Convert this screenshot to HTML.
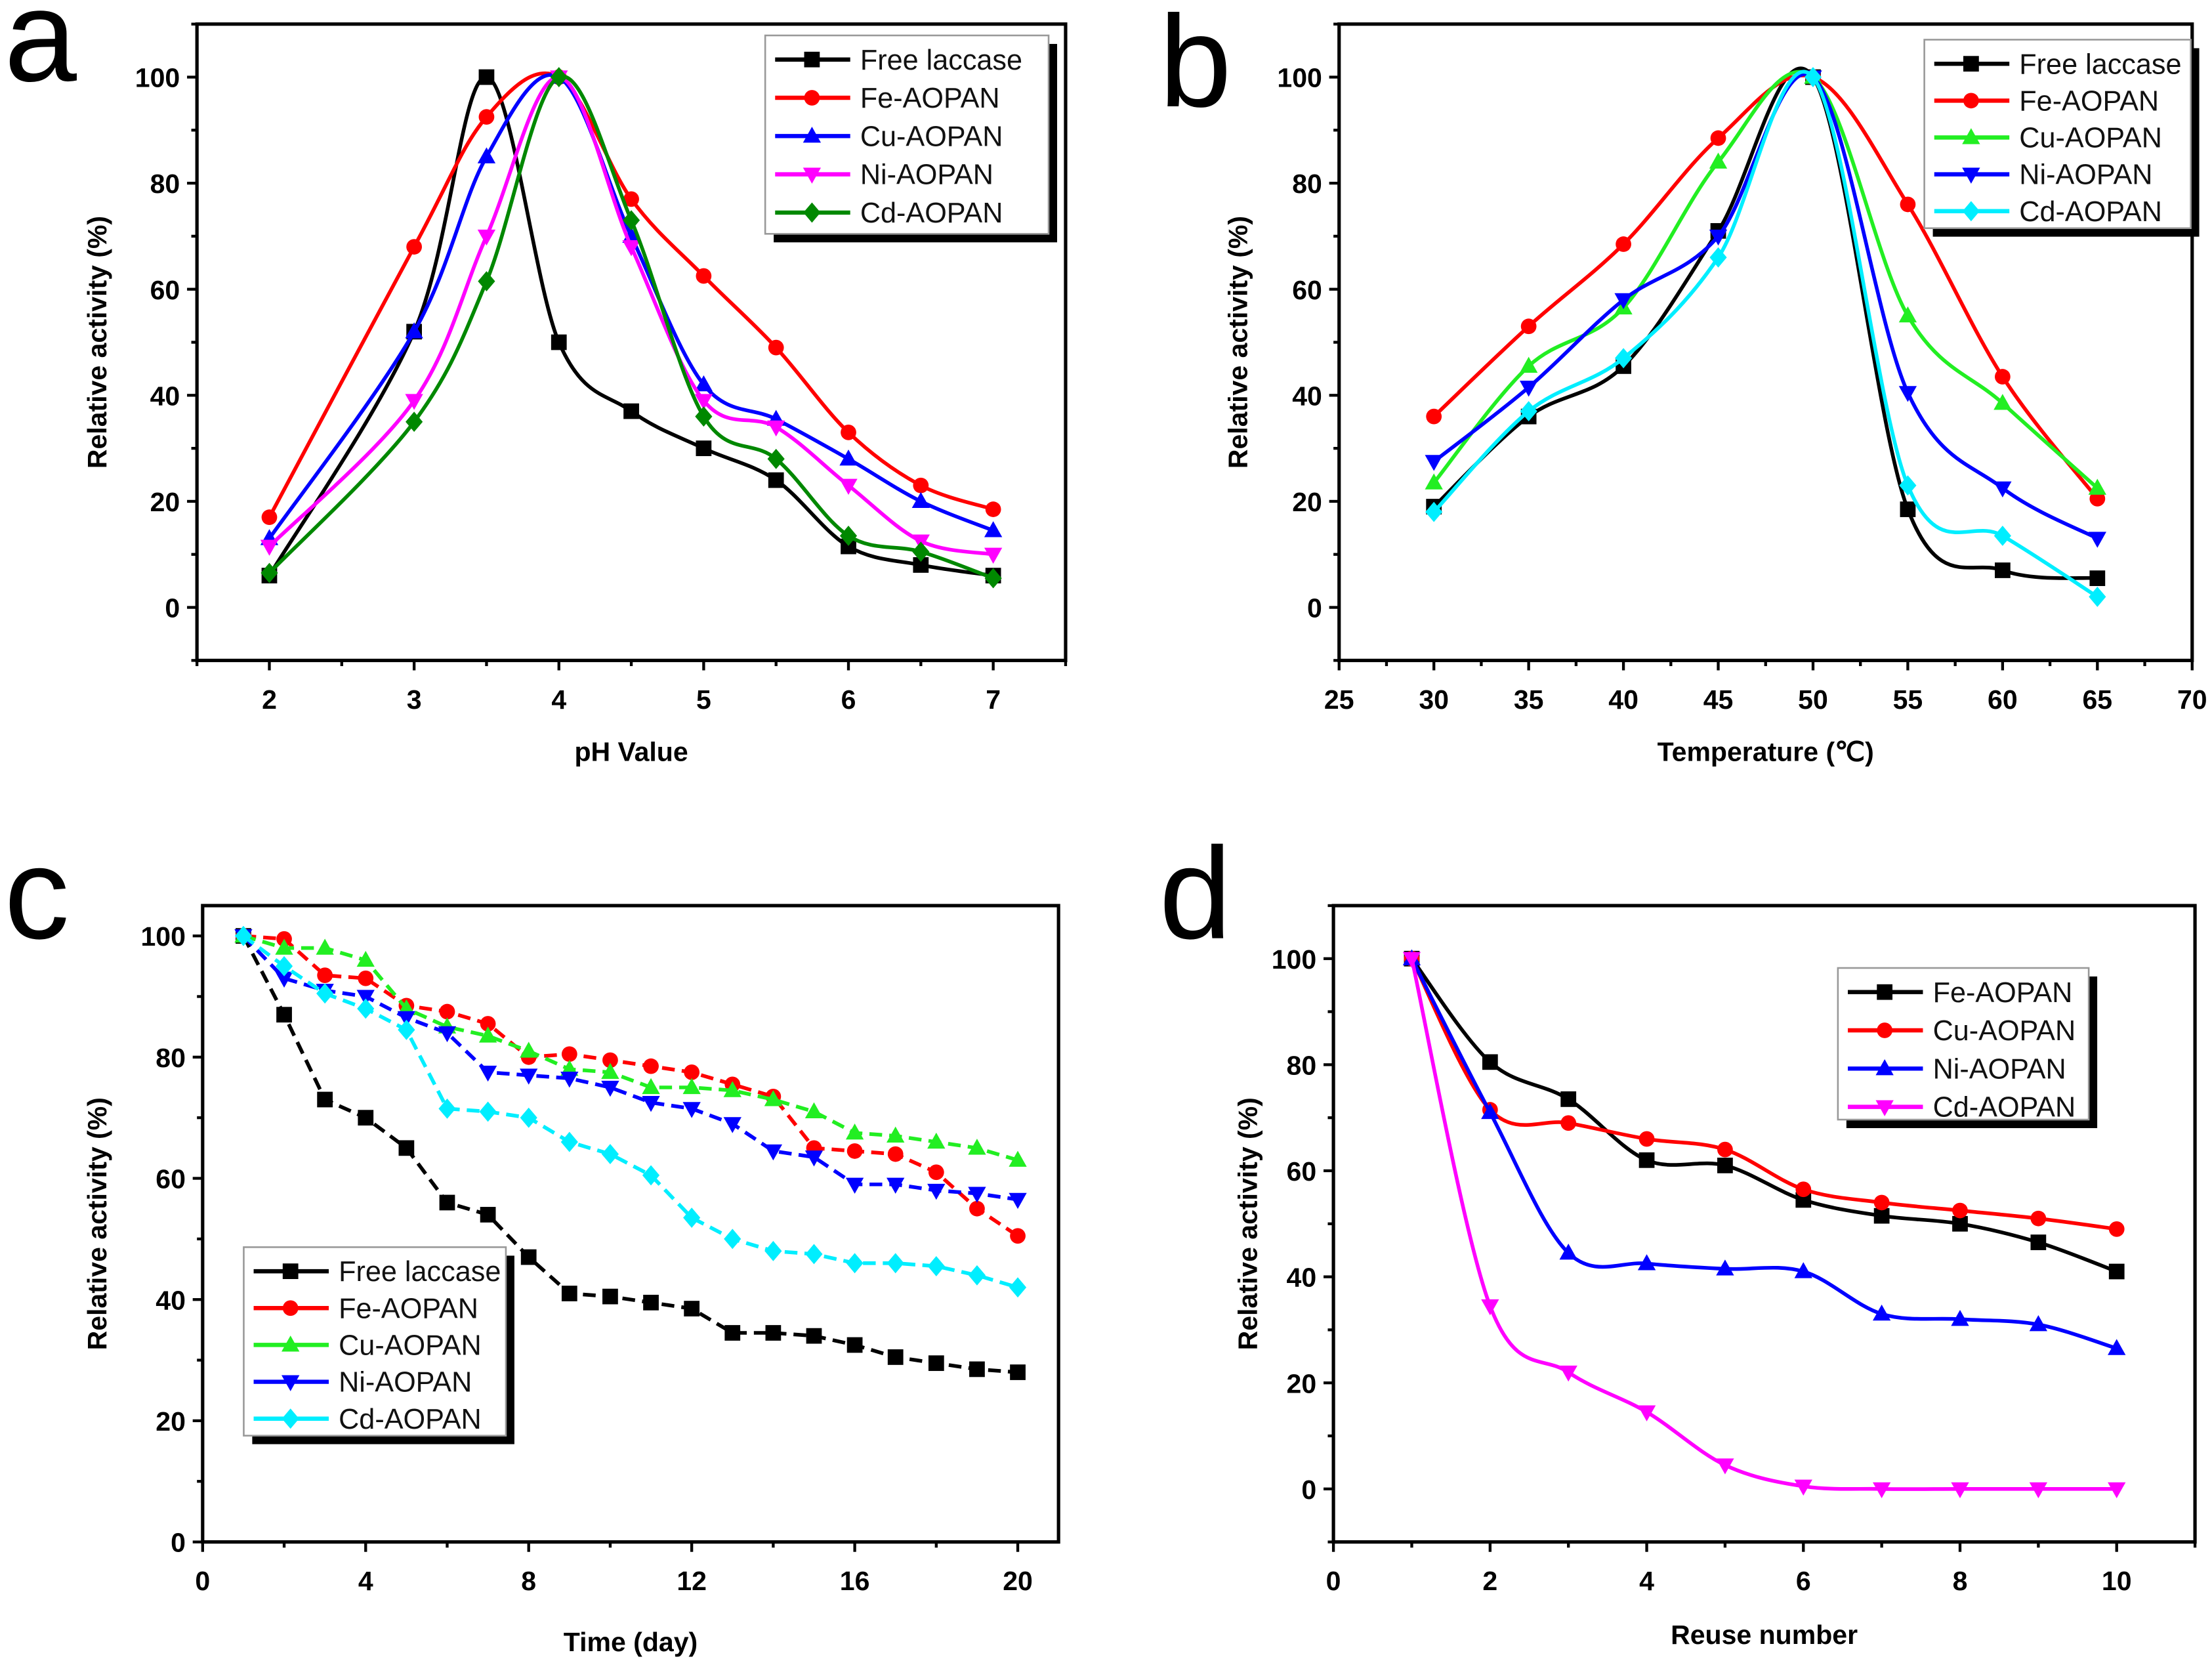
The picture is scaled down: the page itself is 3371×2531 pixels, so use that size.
<!DOCTYPE html>
<html><head><meta charset="utf-8"><style>
html,body{margin:0;padding:0;background:#fff}
svg{display:block}
text{font-family:"Liberation Sans",sans-serif}
</style></head><body>
<svg id="fig" width="3371" height="2531" viewBox="0 0 1561 1172" preserveAspectRatio="none" xmlns="http://www.w3.org/2000/svg">
<rect width="1561" height="1172" fill="#fff"/>
</svg>
<script>
// Panel a: pH
const phX=[2,3,3.5,4,4.5,5,5.5,6,6.5,7];
const phFree=[6,52,100,50,37,30,24,11.5,8,6];
const phFe=[17,68,92.5,100,77,62.5,49,33,23,18.5];
const phCu=[13,52,85,100,70,42,35.5,28,20,14.5];
const phNi=[11.5,39,70,100,68,39,34,23,12.5,10];
const phCd=[6.5,35,61.5,100,73,36,28,13.5,10.5,5.5];
const phXTicks=[2,3,4,5,6,7];
// Panel b: temperature
const tX=[30,35,40,45,50,55,60,65];
const tFree=[19,36,45.5,71,100,18.5,7,5.5];
const tFe=[36,53,68.5,88.5,100,76,43.5,20.5];
const tCu=[23.5,45.5,56.5,84,100,55,38.5,22.5];
const tNi=[27.5,41.5,58,70,100,40.5,22.5,13];
const tCd=[18,37,47,66,100,23,13.5,2];
const tXTicks=[25,30,35,40,45,50,55,60,65,70];
// Panel c: time
const dX=[1,2,3,4,5,6,7,8,9,10,11,12,13,14,15,16,17,18,19,20];
const dFree=[100,87,73,70,65,56,54,47,41,40.5,39.5,38.5,34.5,34.5,34,32.5,30.5,29.5,28.5,28];
const dFe=[100,99.5,93.5,93,88.5,87.5,85.5,80,80.5,79.5,78.5,77.5,75.5,73.5,65,64.5,64,61,55,50.5];
const dCu=[100,98,98,96,88,85,83.5,81,78,77.5,75,75,74.5,73,71,67.5,67,66,65,63];
const dNi=[100,93,91,90,86.5,84,77.5,77,76.5,75,72.5,71.5,69,64.5,63.5,59,59,58,57.5,56.5];
const dCd=[100,95,90.5,88,84.5,71.5,71,70,66,64,60.5,53.5,50,48,47.5,46,46,45.5,44,42];
const dXTicks=[0,4,8,12,16,20];
// Panel d: reuse
const rX=[1,2,3,4,5,6,7,8,9,10];
const rFe=[100,80.5,73.5,62,61,54.5,51.5,50,46.5,41];
const rCu=[100,71.5,69,66,64,56.5,54,52.5,51,49];
const rNi=[100,71,44.5,42.5,41.5,41,33,32,31,26.5];
const rCd=[100,34.5,22,14.5,4.5,0.5,0,0,0,0];
const rXTicks=[0,2,4,6,8,10];
const yTicksA=[0,20,40,60,80,100];
const yTicksC=[0,20,40,60,80,100];

const NS='http://www.w3.org/2000/svg';
const svg=document.getElementById('fig');
function el(tag,attrs,parent,txt){const e=document.createElementNS(NS,tag);for(const k in attrs)e.setAttribute(k,attrs[k]);if(txt!==undefined)e.textContent=txt;(parent||svg).appendChild(e);return e;}

function smoothPath(pts){
  if(pts.length<2)return '';
  let d='M'+pts[0][0]+','+pts[0][1];
  for(let i=0;i<pts.length-1;i++){
    const p0=pts[Math.max(i-1,0)],p1=pts[i],p2=pts[i+1],p3=pts[Math.min(i+2,pts.length-1)];
    const c1=[p1[0]+(p2[0]-p0[0])/6,p1[1]+(p2[1]-p0[1])/6];
    const c2=[p2[0]-(p3[0]-p1[0])/6,p2[1]-(p3[1]-p1[1])/6];
    d+=' C'+c1[0]+','+c1[1]+' '+c2[0]+','+c2[1]+' '+p2[0]+','+p2[1];
  }
  return d;
}
function marker(g,shape,x,y,color,r){
  r=r||5.5;let m;
  if(shape==='square')m=el('rect',{x:x-r,y:y-r,width:2*r,height:2*r,fill:color},g);
  else if(shape==='circle')m=el('circle',{cx:x,cy:y,r:r,fill:color},g);
  else if(shape==='up')m=el('polygon',{points:`${x},${y-r*1.2} ${x-r*1.15},${y+r*0.85} ${x+r*1.15},${y+r*0.85}`,fill:color},g);
  else if(shape==='down')m=el('polygon',{points:`${x},${y+r*1.2} ${x-r*1.15},${y-r*0.85} ${x+r*1.15},${y-r*0.85}`,fill:color},g);
  else m=el('polygon',{points:`${x},${y-r*1.3} ${x+r*1.1},${y} ${x},${y+r*1.3} ${x-r*1.1},${y}`,fill:color},g);
  
  
  return m;
}

function panel(cfg){
  const g=el('g',{});
  
  
  const {L,R,T,B,x0,x1,y0,y1}=cfg;
  const sx=v=>L+(v-x0)/(x1-x0)*(R-L);
  const sy=v=>B-(v-y0)/(y1-y0)*(B-T);
  const lab=el('text',{x:cfg.letter[0],y:cfg.letter[1],'font-size':92,fill:'#000'},g,cfg.id);
  
  
  // series
  cfg.series.forEach(s=>{
    const sg=el('g',{},g);
    
    
    const pts=cfg.xs.map((x,i)=>[sx(x),sy(s.v[i])]);
    const p=el('path',{d:cfg.dashed?('M'+pts.map(q=>q.join(',')).join(' L')):smoothPath(pts),fill:'none',stroke:s.c,'stroke-width':2.6,'stroke-dasharray':cfg.dashed?'9,5':'none','stroke-linejoin':'round'},sg);
    
    
    pts.forEach(q=>marker(sg,s.m,q[0],q[1],s.c));
  });
  // frame
  const fr=el('rect',{x:L,y:T,width:R-L,height:B-T,fill:'none',stroke:'#000','stroke-width':2.4},g);
  
  
  // x ticks
  const xa=el('g',{},g);
  
  
  for(let v=x0;v<=x1+1e-9;v+=cfg.xMinor){
    const X=sx(v);const major=cfg.xTicks.some(t=>Math.abs(t-v)<1e-6);
    el('line',{x1:X,y1:B,x2:X,y2:B+(major?7:4),stroke:'#000','stroke-width':2},xa);
  }
  cfg.xTicks.forEach(t=>{
    const tx=el('text',{x:sx(t),y:B+34,'font-size':19,'font-weight':'bold','text-anchor':'middle'},xa,String(t));
    
    
  });
  const xt=el('text',{x:(L+R)/2,y:cfg.xTitleY,'font-size':19,'font-weight':'bold','text-anchor':'middle'},xa,cfg.xTitle);
  
  
  // y ticks
  const ya=el('g',{},g);
  
  
  for(let v=Math.ceil(y0/10)*10;v<=y1+1e-9;v+=10){
    const Y=sy(v);const major=v%20===0&&v>=0&&v<=100;
    el('line',{x1:L,y1:Y,x2:L-(major?7:4),y2:Y,stroke:'#000','stroke-width':2},ya);
  }
  cfg.yTicks.forEach(t=>{
    const ty=el('text',{x:L-12,y:sy(t)+7,'font-size':19,'font-weight':'bold','text-anchor':'end'},ya,String(t));
    
    
  });
  const yc=(T+B)/2;
  const yt=el('text',{x:cfg.yTitleX,y:yc,'font-size':19,'font-weight':'bold','text-anchor':'middle',transform:`rotate(-90 ${cfg.yTitleX} ${yc})`},ya,'Relative activity (%)');
  
  
  // legend
  const lg=el('g',{},g);
  
  
  const [lx,ly,lw,lh,step]=cfg.leg;
  el('rect',{x:lx+6,y:ly+6,width:lw,height:lh,fill:'#000'},lg);
  el('rect',{x:lx,y:ly,width:lw,height:lh,fill:'#fff',stroke:'#999','stroke-width':1.2},lg);
  cfg.series.forEach((s,i)=>{
    const Y=ly+17+i*step;
    const e=el('g',{},lg);
    
    
    el('line',{x1:lx+7,y1:Y,x2:lx+60,y2:Y,stroke:s.c,'stroke-width':3},e);
    marker(e,s.m,lx+33,Y,s.c);
    el('text',{x:lx+67,y:Y+7,'font-size':20,fill:'#111'},e,s.name);
  });
}

panel({id:'a',L:139,R:752,T:17,B:466,x0:1.5,x1:7.5,y0:-10,y1:110,xs:phX,xTicks:phXTicks,xMinor:0.5,yTicks:yTicksA,
  letter:[3,57],xTitle:'pH Value',xTitleY:537,yTitleX:75,leg:[540,25,200,140,27],
  series:[{name:'Free laccase',v:phFree,c:'#000',m:'square'},{name:'Fe-AOPAN',v:phFe,c:'#f00',m:'circle'},{name:'Cu-AOPAN',v:phCu,c:'#00f',m:'up'},{name:'Ni-AOPAN',v:phNi,c:'#f0f',m:'down'},{name:'Cd-AOPAN',v:phCd,c:'#080',m:'diamond'}]});
panel({id:'b',L:945,R:1547,T:17,B:466,x0:25,x1:70,y0:-10,y1:110,xs:tX,xTicks:tXTicks,xMinor:2.5,yTicks:yTicksA,
  letter:[818,75],xTitle:'Temperature (℃)',xTitleY:537,yTitleX:880,leg:[1358,28,188,133,26],
  series:[{name:'Free laccase',v:tFree,c:'#000',m:'square'},{name:'Fe-AOPAN',v:tFe,c:'#f00',m:'circle'},{name:'Cu-AOPAN',v:tCu,c:'#2e2',m:'up'},{name:'Ni-AOPAN',v:tNi,c:'#00f',m:'down'},{name:'Cd-AOPAN',v:tCd,c:'#0ef',m:'diamond'}]});
panel({id:'c',L:143,R:747,T:639,B:1088,x0:0,x1:21,y0:0,y1:105,xs:dX,xTicks:dXTicks,xMinor:2,yTicks:yTicksC,dashed:true,
  letter:[3,662],xTitle:'Time (day)',xTitleY:1165,yTitleX:75,leg:[172,880,185,133,26],
  series:[{name:'Free laccase',v:dFree,c:'#000',m:'square'},{name:'Fe-AOPAN',v:dFe,c:'#f00',m:'circle'},{name:'Cu-AOPAN',v:dCu,c:'#2e2',m:'up'},{name:'Ni-AOPAN',v:dNi,c:'#00f',m:'down'},{name:'Cd-AOPAN',v:dCd,c:'#0ef',m:'diamond'}]});
panel({id:'d',L:941,R:1549,T:639,B:1088,x0:0,x1:11,y0:-10,y1:110,xs:rX,xTicks:rXTicks,xMinor:1,yTicks:yTicksA,
  letter:[818,662],xTitle:'Reuse number',xTitleY:1160,yTitleX:887,leg:[1297,683,177,107,27],
  series:[{name:'Fe-AOPAN',v:rFe,c:'#000',m:'square'},{name:'Cu-AOPAN',v:rCu,c:'#f00',m:'circle'},{name:'Ni-AOPAN',v:rNi,c:'#00f',m:'up'},{name:'Cd-AOPAN',v:rCd,c:'#f0f',m:'down'}]});
</script>
</body></html>
